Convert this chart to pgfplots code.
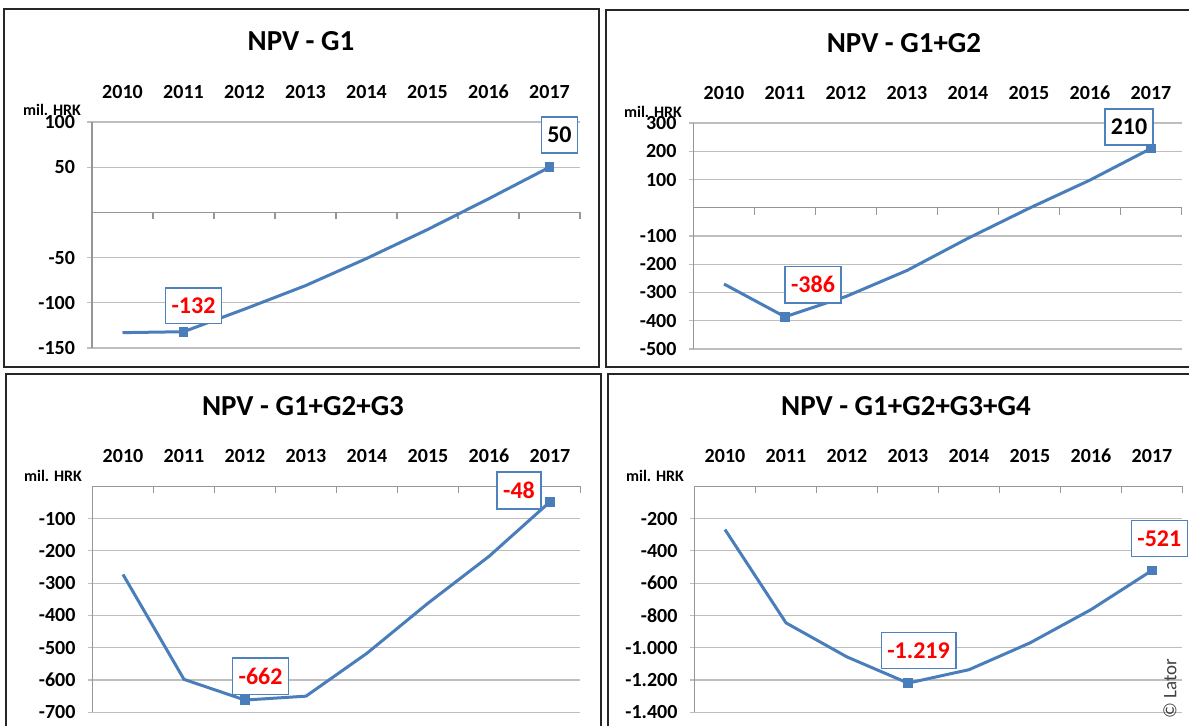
\documentclass[border=0pt]{standalone}
\usepackage{fontspec}
\setmainfont{Carlito}
\usepackage{pgfplots}
\pgfplotsset{compat=1.18}

\definecolor{xlblue}{RGB}{74,126,187}
\definecolor{boxblue}{RGB}{79,129,189}
\definecolor{gridgray}{RGB}{190,190,190}
\definecolor{axisgray}{RGB}{150,150,150}

\pgfplotsset{
  npv/.style={
    scale only axis, width=244pt, height=113pt,
    anchor=south west,
    xmin=-0.5, xmax=7.5,
    axis line style={draw=none},
    xtick={0,...,7},
    xticklabels={2010,2011,2012,2013,2014,2015,2016,2017},
    xticklabel pos=upper, xtick style={draw=none},
    xticklabel style={anchor=base, yshift=9.5pt, font=\bfseries\fontsize{10}{12}\selectfont},
    ytick pos=left, tick align=outside, major tick length=2.5pt,
    ytick style={gridgray, line width=0.6pt},
    ymajorgrids, grid style={gridgray, line width=0.6pt},
    yticklabel style={font=\bfseries\fontsize{10}{12}\selectfont, xshift=-2.5pt},
    clip=false,
  },
}
\tikzset{
  lbl/.style={draw=boxblue, line width=0.8pt, fill=white, inner xsep=3pt,
    inner ysep=5pt, font=\bfseries\fontsize{12}{14}\selectfont},
  ttl/.style={font=\bfseries\fontsize{14.5}{17}\selectfont},
  unit/.style={font=\bfseries\fontsize{8}{9}\selectfont},
}

% zero line with category ticks and the y axis line
\newcommand{\zeroaxis}{%
  \draw[axisgray, line width=0.7pt] (rel axis cs:0,0) -- (rel axis cs:0,1);
  \draw[axisgray, line width=0.7pt] (axis cs:-0.5,0) -- (axis cs:7.5,0);
  \pgfplotsinvokeforeach{0.5,1.5,2.5,3.5,4.5,5.5,6.5,7.5}{
    \draw[axisgray, line width=0.7pt] (axis cs:##1,0) -- ++(0pt,-3.5pt);}
}

\begin{document}
\begin{tikzpicture}
\useasboundingbox (0pt,0pt) rectangle (594.5pt,362.5pt);

% panel frames
\draw[line width=1pt, black!85] (2pt,179pt) rectangle (299.5pt,357.75pt);
\draw[line width=1pt, black!85] (303pt,179pt) rectangle (605pt,357.5pt);
\draw[line width=1pt, black!85] (2.75pt,-5pt) rectangle (300.5pt,175.5pt);
\draw[line width=1pt, black!85] (303.75pt,-5pt) rectangle (605pt,175.5pt);

% titles and units
\node[ttl] at (150.5pt,342pt) {NPV - G1};
\node[ttl] at (452pt,341pt) {NPV - G1+G2};
\node[ttl] at (151.5pt,159.5pt) {NPV - G1+G2+G3};
\node[ttl] at (453pt,159.5pt) {NPV - G1+G2+G3+G4};
\node[unit] at (26pt,307.5pt) {mil. HRK};
\node[unit] at (326.5pt,306.5pt) {mil. HRK};
\node[unit] at (26.5pt,124.5pt) {mil. HRK};
\node[unit] at (327.5pt,124.5pt) {mil. HRK};

% NPV - G1
\begin{axis}[npv, at={(46pt,188.5pt)}, ymin=-150, ymax=100,
  ytick={-150,-100,-50,50,100}, yticklabels={-150,-100,-50,50,100}]
\zeroaxis
\addplot[xlblue, line width=1.5pt] coordinates {
  (0,-133) (1,-132) (2,-107) (3,-81) (4,-51) (5,-19) (6,15) (7,50)};
\addplot[only marks, mark=square*, mark size=2.2pt, xlblue] coordinates {(1,-132) (7,50)};
\node[lbl, text=red, xshift=5pt, yshift=13pt] at (axis cs:1,-132) {-132};
\node[lbl, text=black, xshift=5pt, yshift=16pt] at (axis cs:7,50) {50};
\end{axis}

% NPV - G1+G2
\begin{axis}[npv, at={(346.75pt,188pt)}, ymin=-500, ymax=300,
  ytick={-500,-400,-300,-200,-100,100,200,300},
  yticklabels={-500,-400,-300,-200,-100,100,200,300}]
\zeroaxis
\addplot[xlblue, line width=1.5pt] coordinates {
  (0,-270) (1,-386) (2,-314) (3,-222) (4,-108) (5,-2) (6,98) (7,210)};
\addplot[only marks, mark=square*, mark size=2.2pt, xlblue] coordinates {(1,-386) (7,210)};
\node[lbl, text=red, xshift=14pt, yshift=16pt] at (axis cs:1,-386) {-386};
\node[lbl, text=black, xshift=-11pt, yshift=10.7pt] at (axis cs:7,210) {210};
\end{axis}

% NPV - G1+G2+G3
\begin{axis}[npv, at={(46.25pt,6.35pt)}, ymin=-700, ymax=0,
  ytick={-700,-600,-500,-400,-300,-200,-100},
  yticklabels={-700,-600,-500,-400,-300,-200,-100}]
\zeroaxis
\addplot[xlblue, line width=1.5pt] coordinates {
  (0,-273) (1,-598) (2,-662) (3,-650) (4,-517) (5,-362) (6,-217) (7,-48)};
\addplot[only marks, mark=square*, mark size=2.2pt, xlblue] coordinates {(2,-662) (7,-48)};
\node[lbl, text=red, xshift=7.8pt, yshift=12pt] at (axis cs:2,-662) {-662};
\node[lbl, text=red, xshift=-15.5pt, yshift=5.6pt] at (axis cs:7,-48) {-48};
\end{axis}

% NPV - G1+G2+G3+G4
\begin{axis}[npv, at={(347.25pt,6.35pt)}, ymin=-1400, ymax=0,
  ytick={-1400,-1200,-1000,-800,-600,-400,-200},
  yticklabels={-1.400,-1.200,-1.000,-800,-600,-400,-200}]
\zeroaxis
\addplot[xlblue, line width=1.5pt] coordinates {
  (0,-268) (1,-846) (2,-1057) (3,-1219) (4,-1136) (5,-970) (6,-764) (7,-521)};
\addplot[only marks, mark=square*, mark size=2.2pt, xlblue] coordinates {(3,-1219) (7,-521)};
\node[lbl, text=red, xshift=5.3pt, yshift=16.3pt] at (axis cs:3,-1219) {-1.219};
\node[lbl, text=red, xshift=3.7pt, yshift=16pt] at (axis cs:7,-521) {-521};
\end{axis}

\node[rotate=90, font=\fontsize{9.5}{11}\selectfont, text=black!75] at (585pt,18pt) {© Lator};
\end{tikzpicture}
\end{document}
